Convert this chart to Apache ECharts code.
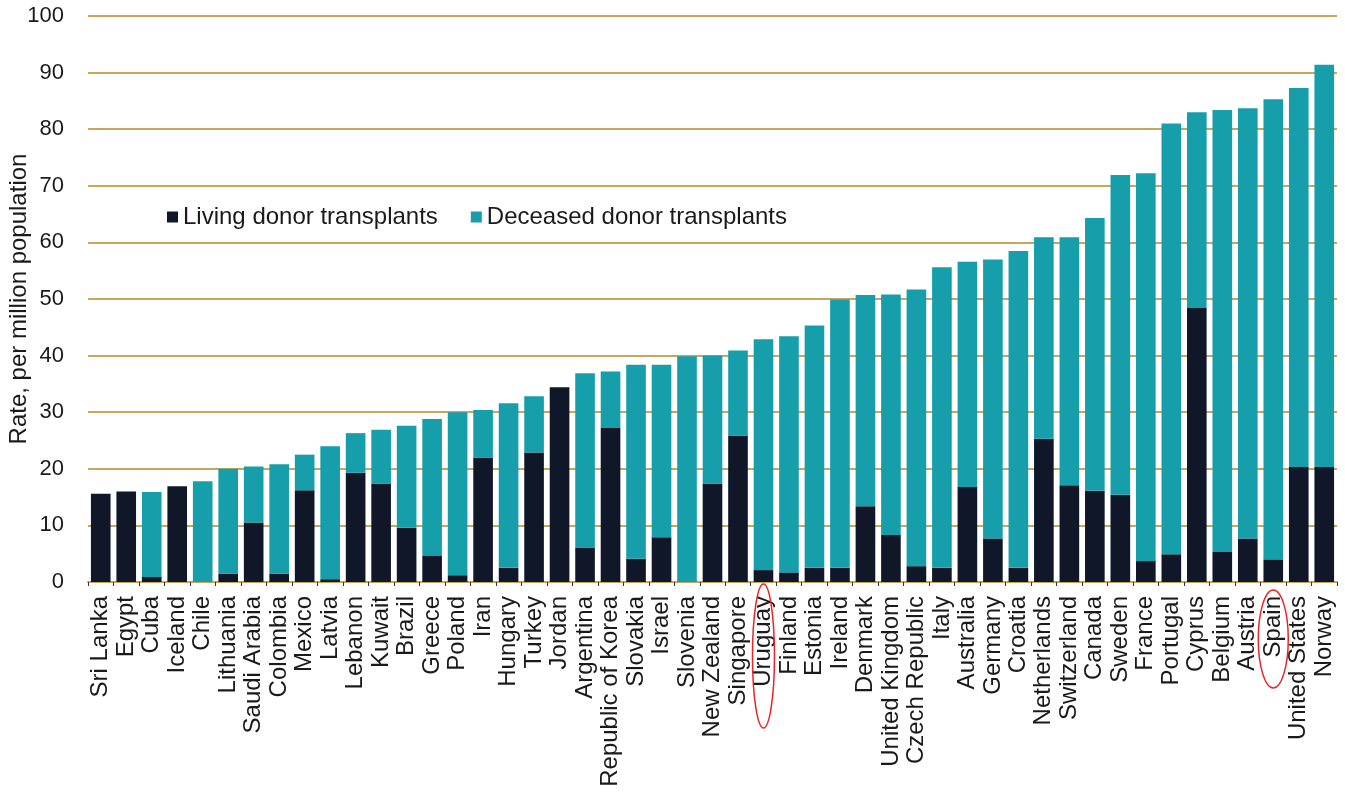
<!DOCTYPE html>
<html>
<head>
<meta charset="utf-8">
<script src="https://cdn.jsdelivr.net/npm/echarts@6/dist/echarts.min.js"></script>
<style>
html,body{margin:0;padding:0;background:#fff;}
#c{width:1345px;height:798px;}
</style>
</head>
<body>
<div id="c"></div>
<script>
const countries = ["Sri Lanka","Egypt","Cuba","Iceland","Chile","Lithuania","Saudi Arabia","Colombia","Mexico","Latvia","Lebanon","Kuwait","Brazil","Greece","Poland","Iran","Hungary","Turkey","Jordan","Argentina","Republic of Korea","Slovakia","Israel","Slovenia","New Zealand","Singapore","Uruguay","Finland","Estonia","Ireland","Denmark","United Kingdom","Czech Republic","Italy","Australia","Germany","Croatia","Netherlands","Switzerland","Canada","Sweden","France","Portugal","Cyprus","Belgium","Austria","Spain","United States","Norway"];
const livingDonor = [15.6,16.0,0.9,16.9,0,1.5,10.5,1.5,16.2,0.5,19.3,17.4,9.6,4.7,1.2,22.0,2.5,22.9,34.4,6.1,27.2,4.1,7.9,0,17.4,25.9,2.1,1.7,2.5,2.5,13.4,8.3,2.8,2.5,16.8,7.7,2.5,25.3,17.1,16.1,15.4,3.7,4.9,48.4,5.3,7.7,4.0,20.3,20.3];
const deceasedDonor = [0,0,15.0,0,17.8,18.5,9.9,19.3,6.3,23.5,7.0,9.5,18.0,24.1,28.8,8.4,29.1,9.9,0,30.8,10.0,34.3,30.5,39.9,22.6,15.0,40.8,41.7,42.8,47.4,37.3,42.5,48.9,53.1,39.8,49.3,56.0,35.6,43.8,48.2,56.5,68.5,76.1,34.6,78.1,76.0,81.3,67.0,71.1];
const yTicks = [0,10,20,30,40,50,60,70,80,90,100];
const highlighted = [{name:"Uruguay", dy:74, ry:72, rx:11}, {name:"Spain", dy:57, ry:49, rx:15}];

const chart = echarts.init(document.getElementById('c'), null, {renderer:'canvas'});
const gold = '#c6a75c';
const font = "'Liberation Sans', Arial, sans-serif";
chart.setOption({
  animation:false,
  backgroundColor:'#fff',
  grid:{left:88, right:8, top:16, bottom:216, containLabel:false, outerBoundsMode:'none'},
  legend:{
    left:162, top:200, itemWidth:11, itemHeight:11, itemGap:33, icon:'rect',
    textStyle:{fontFamily:font, fontSize:24, color:'#1a1a1a', padding:[0,0,0,0]},
    data:['Living donor transplants','Deceased donor transplants']
  },
  xAxis:{
    type:'category', data:countries,
    axisLine:{lineStyle:{color:gold, width:2}},
    axisTick:{show:true, length:4, lineStyle:{color:'#333', width:1}},
    axisLabel:{rotate:90, interval:0, margin:14, fontFamily:font, fontSize:24, color:'#1a1a1a'}
  },
  yAxis:{
    type:'value', min:yTicks[0], max:yTicks[yTicks.length-1], interval:10,
    name:'Rate, per million population', nameLocation:'middle', nameGap:57, nameMoveOverlap:false,
    nameTextStyle:{fontFamily:font, fontSize:24, color:'#1a1a1a'},
    axisLine:{show:false}, axisTick:{show:false},
    axisLabel:{fontFamily:font, fontSize:22, color:'#1a1a1a', margin:24},
    splitLine:{lineStyle:{color:gold, width:2}}
  },
  series:[
    {name:'Living donor transplants', type:'bar', stack:'t', data:livingDonor, barCategoryGap:'23%', itemStyle:{color:'#0f1729'}},
    {name:'Deceased donor transplants', type:'bar', stack:'t', data:deceasedDonor, barCategoryGap:'23%', itemStyle:{color:'#169fab'}}
  ]
});

const baseY = chart.convertToPixel({yAxisIndex:0}, 0);
const graphics = highlighted.map(h => {
  const cx = chart.convertToPixel({xAxisIndex:0}, h.name);
  return {type:'ellipse', shape:{cx:cx, cy:baseY + h.dy, rx:h.rx, ry:h.ry},
          style:{fill:null, stroke:'#e8252a', lineWidth:1.5}, z:100};
});
chart.setOption({graphic:graphics});
</script>
</body>
</html>
